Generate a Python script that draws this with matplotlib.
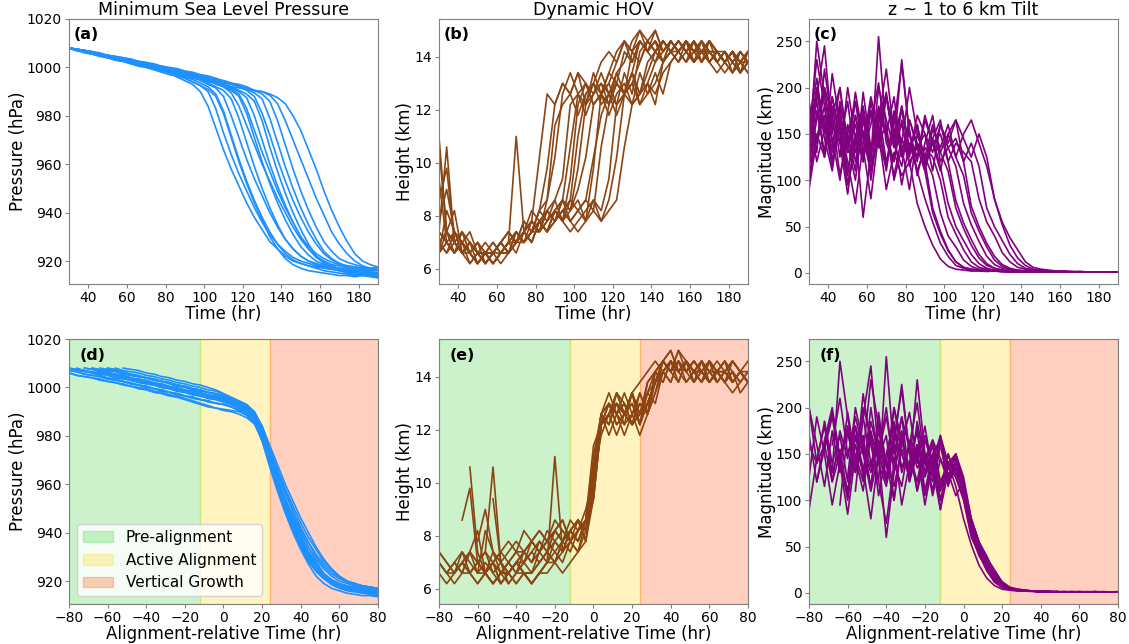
import numpy as np
import matplotlib
matplotlib.use("Agg")
import matplotlib.pyplot as plt

# model output hours (every 4 h)
times_hr = np.arange(30, 191, 4)

# alignment time of each ensemble member (hr)
align_hr = [82, 86, 90, 94, 98, 98, 102, 106, 110, 114, 118, 122, 90, 102, 110, 126]

# minimum sea level pressure (hPa), one row per member
mslp = [
    [1008, 1007.5, 1007, 1006, 1005.5, 1004.5, 1004, 1003, 1002.5, 1001.5, 1001, 1000, 999, 997.5, 996, 994.5, 993, 990, 984, 975, 966, 958, 951, 944, 938, 933, 928, 925, 922, 920, 919, 918, 917.5, 917, 916.5, 916, 916, 915.5, 915, 915, 914.5],
    [1008, 1007, 1006.5, 1006, 1005, 1004.5, 1003.5, 1003, 1002, 1001.5, 1000.5, 1000, 999, 998.5, 997, 995.5, 994, 992.5, 990, 983, 973, 964, 956, 949, 942, 936, 931, 927, 924, 921.5, 920, 919, 918, 917.5, 917, 916.5, 916, 915.5, 916, 915, 915],
    [1008, 1007.5, 1006.5, 1005.5, 1005, 1004, 1003.5, 1002.5, 1002, 1001, 1000.5, 999.5, 999, 998, 997.5, 996, 995, 993.5, 992, 989, 982, 972, 962, 953, 945, 938, 932, 927, 923, 920.5, 919, 918, 917, 916, 915.5, 915, 914.5, 914, 914.5, 914, 913.5],
    [1008, 1007.5, 1007, 1006, 1005, 1004.5, 1004, 1003.5, 1002.5, 1002, 1001, 1000.5, 999.5, 998.5, 998, 997, 996, 994.5, 993, 991.5, 988, 980, 971, 962, 954, 947, 940, 934, 929, 925, 922, 920, 919, 918, 917.5, 917, 916.5, 916, 916, 915.5, 915],
    [1008, 1007, 1006.5, 1005.5, 1005, 1004, 1003, 1002.5, 1001.5, 1001, 1000, 999.5, 998.5, 998, 997, 996.5, 996, 995, 993.5, 992, 990.5, 987, 979, 969, 959, 950, 942, 935, 929, 925, 922, 920, 918.5, 917.5, 917, 916, 915.5, 915, 915, 914.5, 914],
    [1008, 1007.5, 1007, 1006.5, 1005.5, 1005, 1004.5, 1004, 1003, 1002.5, 1002, 1001, 1000.5, 999.5, 999, 998, 997.5, 996.5, 995, 993.5, 992, 989.5, 984, 976, 968, 960, 953, 946, 940, 934, 929, 925, 922, 920, 918.5, 918, 917, 917, 916.5, 916, 916],
    [1008, 1007.5, 1006.5, 1006, 1005, 1004.5, 1003.5, 1003, 1002, 1001.5, 1000.5, 1000, 999, 998.5, 997.5, 997, 996, 995.5, 994.5, 993, 992, 990.5, 988, 981, 971, 961, 952, 944, 937, 931, 926, 922.5, 920, 918.5, 917.5, 917, 916.5, 916, 915.5, 915, 915],
    [1008, 1007, 1006.5, 1006, 1005.5, 1004.5, 1004, 1003, 1002.5, 1001.5, 1001, 1000, 999.5, 998.5, 998, 997, 996.5, 995.5, 995, 994, 993, 991.5, 990, 987.5, 980, 970, 960, 951, 943, 936, 930, 925, 921.5, 919.5, 918, 917, 916, 915.5, 915, 914.5, 914],
    [1008, 1007.5, 1007, 1006, 1005.5, 1005, 1004, 1003.5, 1003, 1002, 1001.5, 1001, 1000, 999.5, 998.5, 998, 997, 996.5, 995.5, 995, 994, 993, 992, 990.5, 988, 981, 972, 962, 953, 945, 938, 932, 927, 923, 920.5, 919, 918, 917.5, 917, 916.5, 916],
    [1008, 1007, 1006.5, 1005.5, 1005, 1004.5, 1003.5, 1003, 1002.5, 1001.5, 1001, 1000, 999.5, 998.5, 998, 997.5, 996.5, 996, 995, 994.5, 993.5, 993, 992, 991, 989.5, 987, 979, 969, 959, 950, 942, 935, 929, 924, 921, 919, 917.5, 916.5, 916, 915.5, 915],
    [1008, 1007.5, 1007, 1006.5, 1005.5, 1005, 1004.5, 1003.5, 1003, 1002.5, 1001.5, 1001, 1000.5, 999.5, 999, 998, 997.5, 996.5, 996, 995, 994.5, 993.5, 993, 992, 990.5, 989, 986, 978, 968, 958, 949, 941, 934, 928, 924, 921, 919.5, 918.5, 917.5, 917, 917.5],
    [1008, 1007.5, 1006.5, 1006, 1005, 1004.5, 1004, 1003, 1002.5, 1002, 1001, 1000.5, 999.5, 999, 998, 997.5, 996.5, 996, 995, 994, 993, 992, 991.5, 991, 990.5, 990, 988.5, 985, 978, 970, 962, 954, 946, 939, 932, 927, 923, 920, 918, 917, 916.5],
    [1008, 1007, 1006, 1005.5, 1004.5, 1004, 1003, 1002.5, 1001.5, 1000.5, 1000, 999, 998, 997, 996.5, 995.5, 994, 992.5, 991, 988, 981, 971, 961, 952, 944, 937, 930, 925, 921, 918.5, 917, 916, 915.5, 915, 914.5, 914, 914, 913.5, 914, 913.5, 913],
    [1008, 1007.5, 1007, 1006, 1005.5, 1005, 1004, 1003.5, 1003, 1002, 1001.5, 1000.5, 1000, 999, 998.5, 997.5, 997, 996, 995, 994, 992.5, 991, 989, 983, 974, 965, 957, 949, 942, 936, 930, 926, 923, 921, 919.5, 918.5, 918, 917.5, 917, 917, 916.5],
    [1008, 1007, 1006.5, 1006, 1005, 1004, 1003.5, 1002.5, 1002, 1001, 1000.5, 999.5, 999, 998, 997, 996.5, 995.5, 995, 994, 993.5, 993, 992, 990.5, 989, 986, 978, 967, 957, 948, 940, 933, 927, 922, 919, 917, 916, 915, 914.5, 914, 914, 913.5],
    [1008, 1007.5, 1007, 1006.5, 1006, 1005, 1004.5, 1004, 1003.5, 1002.5, 1002, 1001.5, 1000.5, 1000, 999.5, 998.5, 998, 997, 996.5, 995.5, 994.5, 993.5, 992.5, 991.5, 990.5, 990, 989, 987.5, 985, 980, 974, 966, 958, 949, 941, 934, 928, 923, 920, 918.5, 917.5],
]

# dynamic height of vortex (km)
hov = [
    [9.4, 7.0, 6.6, 7.0, 6.6, 6.2, 6.6, 6.6, 7.0, 6.6, 7.0, 7.4, 7.8, 10.2, 12.6, 12.2, 13.0, 12.6, 13.4, 12.2, 13.0, 13.8, 14.2, 13.8, 14.6, 14.2, 14.6, 14.2, 14.6, 13.8, 14.2, 14.6, 14.2, 13.8, 14.2, 13.8, 13.4, 13.8, 14.2, 13.8, 13.4],
    [7.4, 10.6, 7.0, 6.6, 7.0, 6.6, 6.2, 6.6, 7.0, 7.4, 7.0, 7.8, 7.4, 8.2, 9.8, 12.2, 13.0, 12.6, 11.8, 12.6, 13.0, 12.6, 13.4, 14.2, 14.6, 13.8, 14.6, 14.2, 14.6, 14.2, 14.6, 14.2, 13.8, 14.2, 14.6, 13.8, 14.2, 13.8, 13.4, 14.2, 13.8],
    [6.6, 8.2, 7.4, 6.6, 6.2, 6.6, 6.6, 6.2, 6.6, 7.0, 11.0, 7.4, 7.8, 7.4, 8.6, 10.2, 12.6, 13.4, 12.6, 13.0, 12.2, 12.6, 13.4, 13.0, 14.2, 13.8, 14.6, 14.2, 13.8, 14.6, 14.2, 14.2, 13.8, 14.6, 14.2, 14.2, 13.8, 13.4, 13.8, 14.2, 13.8],
    [10.6, 7.4, 6.6, 7.0, 6.2, 6.6, 7.0, 6.6, 6.2, 6.6, 7.0, 7.0, 7.4, 8.2, 7.8, 8.6, 9.4, 12.2, 12.6, 11.8, 12.6, 13.0, 12.2, 13.4, 13.8, 14.6, 15.0, 14.2, 14.6, 13.8, 14.2, 14.6, 14.2, 14.6, 13.8, 14.2, 13.8, 14.2, 13.4, 13.8, 14.2],
    [7.0, 7.4, 8.2, 6.6, 7.0, 6.2, 6.6, 6.2, 6.6, 6.6, 7.0, 7.4, 7.0, 7.8, 8.2, 7.8, 8.6, 10.6, 12.6, 12.2, 13.4, 12.6, 12.2, 13.0, 12.6, 14.2, 13.8, 14.6, 14.2, 14.6, 14.2, 13.8, 14.6, 14.2, 14.2, 13.8, 14.2, 13.8, 13.4, 13.8, 13.8],
    [8.6, 9.8, 7.0, 7.4, 6.6, 7.0, 6.2, 6.6, 7.0, 6.6, 7.4, 7.0, 7.8, 7.4, 8.2, 8.6, 7.8, 9.4, 12.2, 13.0, 12.6, 13.4, 12.6, 11.8, 12.6, 13.4, 14.6, 14.2, 15.0, 14.2, 14.6, 14.2, 14.6, 13.8, 14.2, 14.6, 14.2, 13.8, 14.2, 13.4, 14.2],
    [7.0, 6.6, 7.4, 7.0, 6.6, 6.2, 6.6, 7.0, 6.6, 7.0, 7.4, 7.0, 7.4, 7.8, 8.2, 7.8, 8.2, 8.6, 11.0, 12.6, 13.0, 12.2, 12.6, 13.4, 12.6, 13.0, 13.8, 14.6, 14.2, 14.6, 14.2, 14.6, 14.2, 13.8, 14.2, 14.6, 13.8, 14.2, 13.8, 13.4, 13.8],
    [6.6, 7.0, 6.6, 7.4, 7.0, 6.6, 6.2, 6.6, 6.6, 7.0, 7.0, 7.4, 7.8, 7.4, 8.2, 7.8, 8.6, 8.2, 9.0, 10.2, 12.2, 12.6, 13.0, 12.2, 12.6, 13.4, 12.6, 13.8, 14.2, 14.6, 14.2, 14.6, 14.2, 14.6, 13.8, 14.2, 14.2, 13.8, 14.2, 13.8, 13.4],
    [7.4, 7.0, 6.6, 7.0, 7.4, 6.6, 6.6, 6.2, 6.6, 7.0, 6.6, 7.4, 7.0, 7.8, 7.4, 8.2, 7.8, 8.2, 8.6, 7.8, 9.8, 12.6, 11.8, 12.6, 13.0, 12.2, 12.6, 13.4, 14.2, 13.8, 14.6, 14.2, 14.6, 14.2, 13.8, 14.6, 14.2, 13.8, 14.2, 13.8, 14.2],
    [11.0, 7.4, 7.0, 6.6, 7.0, 6.6, 6.2, 6.6, 7.0, 6.6, 7.0, 7.4, 7.0, 7.8, 7.4, 7.8, 8.2, 7.8, 8.2, 8.6, 8.2, 10.6, 12.2, 13.0, 12.6, 12.2, 13.4, 12.6, 13.0, 13.8, 14.6, 14.2, 14.6, 14.2, 14.6, 14.2, 13.8, 14.2, 13.8, 13.4, 13.8],
    [7.0, 7.4, 7.0, 6.6, 6.6, 7.0, 6.6, 6.2, 6.6, 7.0, 7.4, 7.0, 7.4, 7.4, 7.8, 8.2, 7.8, 8.6, 8.2, 7.8, 8.6, 8.2, 9.4, 12.2, 12.6, 13.4, 12.6, 13.0, 12.2, 13.8, 14.2, 14.6, 14.2, 13.8, 14.6, 14.2, 14.2, 13.8, 14.2, 13.8, 14.2],
    [6.6, 7.0, 7.4, 7.0, 6.6, 6.2, 6.6, 6.6, 7.0, 6.6, 7.4, 7.0, 7.4, 7.8, 7.4, 7.8, 8.2, 7.8, 7.4, 7.8, 8.2, 7.8, 8.6, 10.2, 12.6, 13.0, 12.2, 12.6, 13.4, 12.6, 13.8, 14.2, 14.6, 14.2, 14.6, 13.8, 14.2, 14.2, 13.8, 14.2, 13.8],
    [7.8, 9.0, 7.4, 7.0, 6.6, 6.2, 6.6, 6.6, 7.0, 7.4, 7.0, 7.8, 7.4, 8.2, 8.6, 11.4, 12.2, 12.6, 13.4, 13.0, 12.2, 12.6, 13.0, 13.8, 14.6, 14.2, 15.0, 14.6, 14.2, 14.6, 14.2, 13.8, 14.2, 14.6, 14.2, 13.8, 14.2, 13.8, 14.2, 13.4, 13.8],
    [6.6, 7.4, 7.0, 6.6, 7.0, 6.6, 6.2, 6.6, 7.0, 7.4, 7.0, 7.4, 8.2, 7.8, 7.4, 8.2, 8.6, 8.2, 9.8, 12.2, 12.6, 13.0, 12.6, 12.2, 13.4, 12.6, 14.2, 14.6, 15.0, 14.2, 14.6, 14.2, 14.6, 13.8, 14.2, 14.6, 14.2, 13.8, 14.2, 13.8, 14.2],
    [7.0, 6.6, 7.0, 7.4, 6.6, 7.0, 6.6, 6.2, 6.6, 6.6, 7.0, 7.4, 7.8, 7.4, 7.8, 8.2, 8.6, 7.8, 8.2, 8.6, 10.2, 11.8, 12.6, 13.0, 12.6, 13.4, 12.2, 13.0, 13.8, 14.2, 14.6, 14.2, 14.6, 13.8, 14.2, 14.6, 14.2, 13.8, 14.2, 13.4, 13.8],
    [7.4, 7.0, 6.6, 7.0, 6.6, 6.2, 6.6, 7.0, 6.6, 7.0, 7.4, 7.0, 7.4, 7.8, 7.4, 8.2, 7.8, 7.4, 7.8, 8.2, 8.6, 7.8, 8.2, 8.6, 10.6, 12.2, 12.6, 13.0, 12.6, 13.4, 13.8, 14.2, 14.6, 14.2, 14.6, 14.2, 13.8, 14.2, 13.8, 14.2, 13.8],
]

# 1-6 km tilt magnitude (km)
tilt = [
    [150, 230, 180, 120, 160, 95, 140, 175, 110, 150, 90, 130, 105, 120, 75, 50, 30, 15, 7, 4, 3, 2, 2, 1.5, 2, 1.5, 1, 1.5, 1, 1, 1.5, 1, 1, 1, 1.5, 1, 1, 1, 1, 1, 1],
    [110, 190, 245, 150, 200, 130, 170, 120, 185, 140, 160, 100, 135, 150, 110, 80, 55, 32, 18, 8, 5, 3, 2.5, 2, 2, 1.5, 1, 1.5, 1, 1, 1.5, 1, 1, 1, 1, 1.5, 1, 1, 1, 1, 1],
    [180, 140, 200, 170, 105, 150, 185, 130, 160, 205, 140, 120, 165, 115, 140, 120, 70, 45, 25, 12, 6, 4, 3, 2, 2, 1.5, 1.5, 1, 1, 1.5, 1, 1, 1, 1, 1, 1.5, 1, 1, 1, 1, 1],
    [95, 175, 130, 215, 160, 120, 75, 140, 190, 155, 110, 170, 135, 90, 150, 125, 105, 65, 40, 28, 14, 7, 4, 3, 2, 2, 1.5, 1, 1.5, 1, 1, 1, 1, 1.5, 1, 1, 1, 1, 1, 1, 1],
    [160, 210, 150, 180, 125, 200, 145, 170, 100, 160, 195, 140, 180, 130, 160, 120, 145, 115, 75, 50, 35, 20, 10, 5, 3, 2.5, 2, 1.5, 1.5, 1, 1, 1, 1.5, 1, 1, 1, 1, 1, 1, 1, 1],
    [130, 250, 190, 140, 170, 110, 150, 60, 130, 175, 120, 150, 95, 140, 110, 135, 125, 100, 60, 42, 25, 12, 6, 4, 2.5, 2, 2, 1.5, 1, 1, 1.5, 1, 1, 1, 1, 1, 1, 1, 1, 1, 1],
    [185, 140, 170, 120, 180, 150, 110, 195, 135, 165, 220, 150, 175, 130, 160, 115, 140, 130, 110, 70, 48, 30, 16, 8, 5, 3, 2, 2, 1.5, 1, 1.5, 1, 1, 1, 1, 1, 1, 1, 1, 1, 1],
    [120, 165, 200, 145, 100, 160, 130, 170, 120, 255, 150, 190, 125, 155, 105, 140, 170, 120, 135, 115, 75, 52, 34, 18, 9, 5, 3, 2.5, 2, 1.5, 1.5, 1, 1, 1, 1, 1, 1, 1, 1, 1, 1],
    [170, 120, 155, 190, 140, 85, 150, 120, 175, 140, 115, 160, 225, 150, 120, 165, 140, 110, 150, 125, 105, 65, 45, 28, 14, 7, 4, 3, 2, 2, 1.5, 1, 1, 1, 1, 1, 1, 1, 1, 1, 1],
    [140, 200, 160, 115, 175, 130, 195, 145, 110, 170, 150, 120, 180, 135, 160, 110, 145, 165, 120, 140, 130, 120, 80, 55, 40, 22, 12, 6, 4, 3, 2, 2, 1.5, 1, 1, 1, 1, 1, 1, 1, 1],
    [100, 150, 125, 190, 150, 95, 140, 180, 130, 160, 115, 175, 140, 200, 150, 125, 160, 130, 150, 165, 120, 140, 115, 70, 50, 35, 20, 10, 5, 3, 2.5, 2, 1.5, 1, 1, 1, 1, 1, 1, 1, 1],
    [175, 130, 220, 160, 140, 185, 120, 150, 175, 135, 190, 140, 160, 125, 170, 150, 130, 160, 140, 165, 145, 125, 150, 125, 80, 55, 38, 25, 12, 6, 4, 3, 2, 2, 1.5, 1, 1, 1, 1, 1, 1],
    [125, 200, 160, 135, 185, 140, 100, 165, 130, 180, 150, 105, 145, 120, 135, 110, 65, 42, 24, 12, 6, 4, 3, 2, 2, 1.5, 1, 1.5, 1, 1, 1, 1, 1, 1.5, 1, 1, 1, 1, 1, 1, 1],
    [160, 195, 145, 110, 170, 130, 185, 150, 120, 200, 165, 135, 230, 150, 125, 170, 140, 150, 120, 78, 54, 36, 20, 10, 5, 3, 2.5, 2, 1.5, 1.5, 1, 1, 1, 1.5, 1, 1, 1, 1, 1, 1, 1],
    [90, 145, 180, 130, 155, 105, 170, 135, 80, 150, 190, 140, 115, 165, 135, 150, 110, 160, 135, 145, 120, 72, 50, 32, 18, 9, 5, 3, 2, 2, 1.5, 1, 1, 1, 1, 1, 1, 1, 1, 1, 1],
    [150, 185, 125, 170, 200, 140, 160, 120, 175, 145, 190, 155, 130, 165, 140, 115, 155, 135, 160, 125, 150, 165, 140, 115, 80, 52, 30, 16, 8, 4, 3, 2, 2, 1.5, 1, 1, 1, 1, 1, 1, 1],
]

# alignment phases (hr relative to alignment)
phase_names = ["Pre-alignment", "Active Alignment", "Vertical Growth"]
phase_edges = [-80, -12, 24, 80]
phase_colors = ["limegreen", "gold", "orangered"]

titles = ["Minimum Sea Level Pressure", "Dynamic HOV", "z ~ 1 to 6 km Tilt"]
ylabels = ["Pressure (hPa)", "Height (km)", "Magnitude (km)"]
line_colors = ["dodgerblue", "saddlebrown", "purple"]
series = [mslp, hov, tilt]
tags = [["(a)", "(b)", "(c)"], ["(d)", "(e)", "(f)"]]

fig = plt.figure(figsize=(11.29, 6.44), dpi=100)
lefts = [0.0611, 0.3888, 0.7166]
bottoms = [0.559, 0.062]
w, h = 0.2737, 0.4115

for row in range(2):
    for col in range(3):
        ax = fig.add_axes([lefts[col], bottoms[row], w, h])
        data = series[col]
        if row == 1:
            for k in range(3):
                ax.axvspan(phase_edges[k], phase_edges[k + 1], color=phase_colors[k],
                           alpha=0.25, label=phase_names[k])
        for m in range(len(data)):
            x = times_hr if row == 0 else times_hr - align_hr[m]
            ax.plot(x, data[m], color=line_colors[col], lw=1.2)
        if row == 0:
            ax.set_xlim(30, 190)
            ax.set_xticks(range(40, 181, 20))
            ax.set_xlabel("Time (hr)", fontsize=12, labelpad=0)
            ax.set_title(titles[col], fontsize=12.5, pad=3)
        else:
            ax.set_xlim(-80, 80)
            ax.set_xticks(range(-80, 81, 20))
            ax.set_xlabel("Alignment-relative Time (hr)", fontsize=12, labelpad=0)
        if col == 0:
            ax.set_ylim(910.5, 1020)
            ax.set_yticks(range(920, 1021, 20))
        elif col == 1:
            ax.set_ylim(5.43, 15.43)
            ax.set_yticks(range(6, 15, 2))
        else:
            ax.set_ylim(-12, 274)
            ax.set_yticks(range(0, 251, 50))
        ax.set_ylabel(ylabels[col], fontsize=12, labelpad=0)
        ax.tick_params(labelsize=10, length=3, color="gray", pad=2)
        for s in ax.spines.values():
            s.set_color("gray")
        tx = 0.015 if row == 0 else 0.033
        ax.text(tx, 0.968, tags[row][col], transform=ax.transAxes, fontsize=11.5,
                fontweight="bold", va="top", ha="left")
        if row == 1 and col == 0:
            ax.legend(loc="lower left", fontsize=11, handlelength=2.0)

fig.savefig("out.png", dpi=100)
